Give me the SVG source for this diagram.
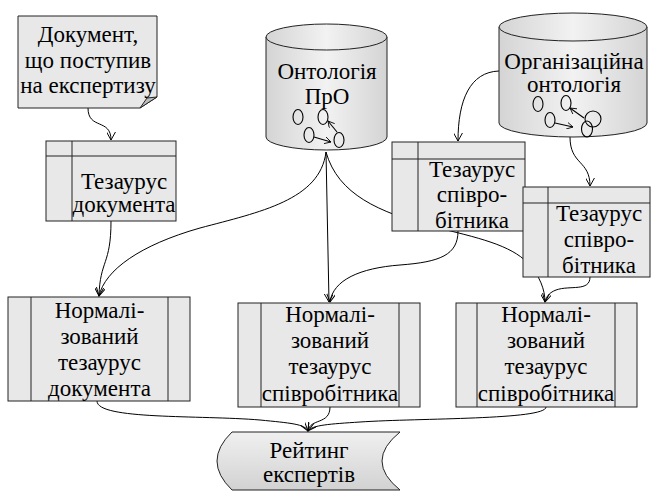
<svg xmlns="http://www.w3.org/2000/svg" width="651" height="491" viewBox="0 0 651 491">
<defs>
<linearGradient id="cyl" x1="0" y1="0" x2="1" y2="0">
<stop offset="0" stop-color="#d4d4d4"/>
<stop offset="0.5" stop-color="#f2f2f2"/>
<stop offset="1" stop-color="#d4d4d4"/>
</linearGradient>
<linearGradient id="rate" x1="0" y1="0" x2="0" y2="1">
<stop offset="0" stop-color="#f0f0f0"/>
<stop offset="1" stop-color="#d2d2d2"/>
</linearGradient>
<marker id="arr" viewBox="0 0 10 10" refX="9" refY="5" markerWidth="9" markerHeight="9" markerUnits="userSpaceOnUse" orient="auto">
<path d="M0,0 L9,5 L0,10" fill="none" stroke="#000" stroke-width="1.1"/>
</marker>
<marker id="sarr" viewBox="0 0 10 10" refX="9" refY="5" markerWidth="7" markerHeight="7" markerUnits="userSpaceOnUse" orient="auto">
<path d="M0,0 L9,5 L0,10" fill="none" stroke="#000" stroke-width="1.2"/>
</marker>
</defs>
<style>
.box{fill:#e8e8e8;stroke:#222;stroke-width:1}
.ln{fill:none;stroke:#222;stroke-width:1}
.cyl{fill:url(#cyl);stroke:#222;stroke-width:1}
.t{font-family:"Liberation Serif","Times New Roman",serif;font-size:23px;fill:#000;text-anchor:middle}
.c{fill:none;stroke:#000;stroke-width:1}
.e{fill:none;stroke:#000;stroke-width:1.1}
</style>
<g id="connectors">
<path class="c" d="M88,108 C88,130 111,118 111,140" marker-end="url(#arr)"/>
<path class="c" d="M111,221 C111,265 100,260 99,296" marker-end="url(#arr)"/>
<path class="c" d="M326,152 C320,200 260,212 200,228 C140,245 105,270 99,296" marker-end="url(#arr)"/>
<path class="c" d="M326,152 L329,302" marker-end="url(#arr)"/>
<path class="c" d="M326,152 C338,195 380,212 430,226 C480,238 510,245 528,263 C540,276 545,290 545,302" marker-end="url(#arr)"/>
<path class="c" d="M499,71 C470,72 458,100 458,141" marker-end="url(#arr)"/>
<path class="c" d="M570,137 C570,165 590,160 590,186" marker-end="url(#arr)"/>
<path class="c" d="M458,231 C458,255 440,262 400,265 C360,268 333,280 330,302" marker-end="url(#arr)"/>
<path class="c" d="M590,277 C590,292 570,285 556,290 C548,293 546,298 545,302" marker-end="url(#arr)"/>
<path class="c" d="M97,401 C97,420 200,415 260,420 C290,423 305,424 308,431" marker-end="url(#arr)"/>
<path class="c" d="M330,407 C330,425 310,418 308,431" marker-end="url(#arr)"/>
<path class="c" d="M546,407 C546,420 420,418 360,422 C330,424 312,425 308,431" marker-end="url(#arr)"/>
</g>
<g id="doc">
<path class="box" d="M18,16 H157 V97 L140,108 H18 Z"/>
<path d="M140,108 L147,98 L157,97 Z" fill="#bdbdbd" stroke="#222" stroke-width="1"/>
<text class="t" x="88" y="42">Документ,</text>
<text class="t" x="88" y="68">що поступив</text>
<text class="t" x="88" y="93">на експертизу</text>
</g>
<g id="tez-doc">
<rect class="box" x="46" y="141" width="130" height="80"/>
<line class="ln" x1="46" y1="156" x2="176" y2="156"/>
<line class="ln" x1="72" y1="141" x2="72" y2="221"/>
<text class="t" x="124" y="189">Тезаурус</text>
<text class="t" x="124" y="212">документа</text>
</g>
<g id="onto-pro">
<path class="cyl" d="M266,37 V137 A60.5,13 0 0 0 387,137 V37 Z"/>
<ellipse class="cyl" cx="326.5" cy="37" rx="60.5" ry="13"/>
<text class="t" x="327" y="79">Онтологія</text>
<text class="t" x="327" y="104">ПрО</text>
<ellipse class="e" cx="298" cy="117" rx="5" ry="7.5"/>
<ellipse class="e" cx="323" cy="117" rx="5" ry="7.5"/>
<ellipse class="e" cx="309" cy="135" rx="5" ry="7.5"/>
<ellipse class="e" cx="339" cy="140" rx="5" ry="7.5"/>
<path class="e" d="M314,137 L331,142" marker-end="url(#sarr)"/>
<path class="e" d="M337,132 L328,121" marker-end="url(#sarr)"/>
</g>
<g id="onto-org">
<path class="cyl" d="M499,27 V123 A74,14 0 0 0 647,123 V27 Z"/>
<ellipse class="cyl" cx="573" cy="27" rx="74" ry="14"/>
<text class="t" x="574" y="69">Організаційна</text>
<text class="t" x="574" y="92">онтологія</text>
<ellipse class="e" cx="538" cy="104" rx="5" ry="7.5"/>
<ellipse class="e" cx="566" cy="103" rx="5" ry="7.5"/>
<ellipse class="e" cx="550" cy="120" rx="5" ry="7.5"/>
<ellipse class="e" cx="587" cy="129" rx="5.5" ry="8"/>
<ellipse class="e" cx="593" cy="119" rx="8" ry="8"/>
<path class="e" d="M555,123 L573,127" marker-end="url(#sarr)"/>
<path class="e" d="M584,118 L570,108" marker-end="url(#sarr)"/>
</g>
<g id="tez-emp1">
<rect class="box" x="392" y="142" width="133" height="89"/>
<line class="ln" x1="392" y1="159" x2="525" y2="159"/>
<line class="ln" x1="418" y1="142" x2="418" y2="231"/>
<text class="t" x="472" y="177">Тезаурус</text>
<text class="t" x="472" y="202">співро-</text>
<text class="t" x="472" y="228">бітника</text>
</g>
<g id="tez-emp2">
<rect class="box" x="523" y="187" width="127" height="90"/>
<line class="ln" x1="523" y1="203" x2="650" y2="203"/>
<line class="ln" x1="548" y1="187" x2="548" y2="277"/>
<text class="t" x="599" y="221">Тезаурус</text>
<text class="t" x="599" y="247">співро-</text>
<text class="t" x="599" y="273">бітника</text>
</g>
<g id="norm-doc">
<rect class="box" x="8" y="297" width="182" height="104"/>
<line class="ln" x1="31" y1="297" x2="31" y2="401"/>
<line class="ln" x1="168" y1="297" x2="168" y2="401"/>
<text class="t" x="99.5" y="318">Нормалі-</text>
<text class="t" x="99.5" y="344">зований</text>
<text class="t" x="99.5" y="370">тезаурус</text>
<text class="t" x="99.5" y="396">документа</text>
</g>
<g id="norm-emp1">
<rect class="box" x="238" y="303" width="182" height="104"/>
<line class="ln" x1="261" y1="303" x2="261" y2="407"/>
<line class="ln" x1="399" y1="303" x2="399" y2="407"/>
<text class="t" x="330" y="322">Нормалі-</text>
<text class="t" x="330" y="348">зований</text>
<text class="t" x="330" y="374">тезаурус</text>
<text class="t" x="330" y="401">співробітника</text>
</g>
<g id="norm-emp2">
<rect class="box" x="456" y="303" width="181" height="104"/>
<line class="ln" x1="477" y1="303" x2="477" y2="407"/>
<line class="ln" x1="615" y1="303" x2="615" y2="407"/>
<text class="t" x="546" y="322">Нормалі-</text>
<text class="t" x="546" y="348">зований</text>
<text class="t" x="546" y="374">тезаурус</text>
<text class="t" x="546" y="401">співробітника</text>
</g>
<g id="rating">
<path d="M232,432 H400 Q364,461 400,490 H232 Q202,461 232,432 Z" fill="url(#rate)" stroke="#222" stroke-width="1"/>
<text class="t" x="309" y="458">Рейтинг</text>
<text class="t" x="309" y="482">експертів</text>
</g>
</svg>
